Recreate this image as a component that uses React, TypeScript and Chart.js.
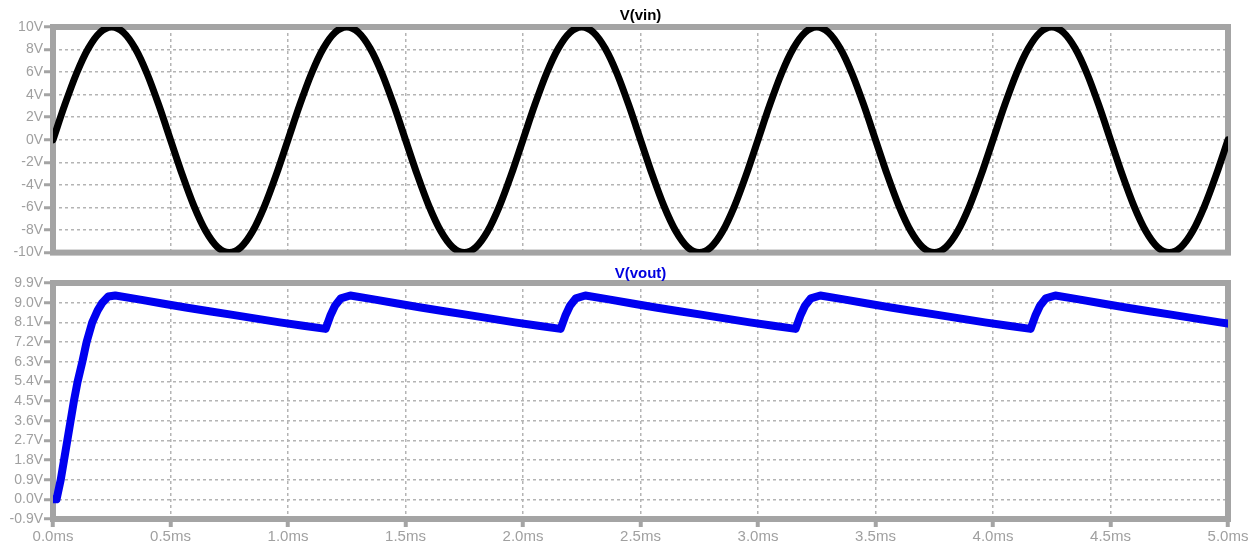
import React, { useEffect, useRef } from 'react';
import { Chart, registerables } from 'chart.js';

Chart.register(...registerables);

// ---- Data ----
const timeTicks = [0, 0.5, 1, 1.5, 2, 2.5, 3, 3.5, 4, 4.5, 5];
const vinTicks = [-10, -8, -6, -4, -2, 0, 2, 4, 6, 8, 10];
const voutTicks = [-0.9, 0, 0.9, 1.8, 2.7, 3.6, 4.5, 5.4, 6.3, 7.2, 8.1, 9.0, 9.9];

const vinTime = [
  0, 0.05, 0.1, 0.15, 0.2, 0.25, 0.3, 0.35, 0.4, 0.45,
  0.5, 0.55, 0.6, 0.65, 0.7, 0.75, 0.8, 0.85, 0.9, 0.95,
  1.0, 1.05, 1.1, 1.15, 1.2, 1.25, 1.3, 1.35, 1.4, 1.45,
  1.5, 1.55, 1.6, 1.65, 1.7, 1.75, 1.8, 1.85, 1.9, 1.95,
  2.0, 2.05, 2.1, 2.15, 2.2, 2.25, 2.3, 2.35, 2.4, 2.45,
  2.5, 2.55, 2.6, 2.65, 2.7, 2.75, 2.8, 2.85, 2.9, 2.95,
  3.0, 3.05, 3.1, 3.15, 3.2, 3.25, 3.3, 3.35, 3.4, 3.45,
  3.5, 3.55, 3.6, 3.65, 3.7, 3.75, 3.8, 3.85, 3.9, 3.95,
  4.0, 4.05, 4.1, 4.15, 4.2, 4.25, 4.3, 4.35, 4.4, 4.45,
  4.5, 4.55, 4.6, 4.65, 4.7, 4.75, 4.8, 4.85, 4.9, 4.95,
  5.0,
];
const vinValues = [
  0, 3.09, 5.88, 8.09, 9.51, 10, 9.51, 8.09, 5.88, 3.09,
  0, -3.09, -5.88, -8.09, -9.51, -10, -9.51, -8.09, -5.88, -3.09,
  0, 3.09, 5.88, 8.09, 9.51, 10, 9.51, 8.09, 5.88, 3.09,
  0, -3.09, -5.88, -8.09, -9.51, -10, -9.51, -8.09, -5.88, -3.09,
  0, 3.09, 5.88, 8.09, 9.51, 10, 9.51, 8.09, 5.88, 3.09,
  0, -3.09, -5.88, -8.09, -9.51, -10, -9.51, -8.09, -5.88, -3.09,
  0, 3.09, 5.88, 8.09, 9.51, 10, 9.51, 8.09, 5.88, 3.09,
  0, -3.09, -5.88, -8.09, -9.51, -10, -9.51, -8.09, -5.88, -3.09,
  0, 3.09, 5.88, 8.09, 9.51, 10, 9.51, 8.09, 5.88, 3.09,
  0, -3.09, -5.88, -8.09, -9.51, -10, -9.51, -8.09, -5.88, -3.09,
  0,
];

const voutTime = [
  0, 0.015, 0.033, 0.047, 0.061, 0.075, 0.089, 0.105, 0.125, 0.143, 0.167, 0.19, 0.21, 0.235, 0.265,
  0.365, 0.465, 0.565, 0.665, 0.765, 0.865, 0.965, 1.065, 1.16, 1.18, 1.2, 1.225, 1.265,
  1.365, 1.465, 1.565, 1.665, 1.765, 1.865, 1.965, 2.065, 2.16, 2.18, 2.2, 2.225, 2.265,
  2.365, 2.465, 2.565, 2.665, 2.765, 2.865, 2.965, 3.065, 3.16, 3.18, 3.2, 3.225, 3.265,
  3.365, 3.465, 3.565, 3.665, 3.765, 3.865, 3.965, 4.065, 4.16, 4.18, 4.2, 4.225, 4.265,
  4.365, 4.465, 4.565, 4.665, 4.765, 4.865, 4.965, 5.0,
];
const voutValues = [
  0, 0, 0.9, 1.8, 2.7, 3.6, 4.5, 5.4, 6.3, 7.2, 8.1, 8.65, 9.0, 9.28, 9.33,
  9.15, 8.96, 8.78, 8.61, 8.44, 8.27, 8.1, 7.94, 7.8, 8.4, 8.86, 9.2, 9.33,
  9.15, 8.96, 8.78, 8.61, 8.44, 8.27, 8.1, 7.94, 7.8, 8.4, 8.86, 9.2, 9.33,
  9.15, 8.96, 8.78, 8.61, 8.44, 8.27, 8.1, 7.94, 7.8, 8.4, 8.86, 9.2, 9.33,
  9.15, 8.96, 8.78, 8.61, 8.44, 8.27, 8.1, 7.94, 7.8, 8.4, 8.86, 9.2, 9.33,
  9.15, 8.96, 8.78, 8.61, 8.44, 8.27, 8.1, 8.04,
];

// ---- Styles ----
const FRAME = '#a4a4a4';
const GRID = '#b4b4b4';
const LABEL = '#a0a0a0';
const FONT = '"Liberation Sans", Arial, sans-serif';

const framePlugin = {
  id: 'panelFrame',
  beforeDatasetsDraw(chart: any) {
    const { ctx, chartArea } = chart;
    const { left, top, right, bottom } = chartArea;
    ctx.save();
    ctx.strokeStyle = FRAME;
    ctx.lineWidth = 6;
    ctx.strokeRect(left, top, right - left, bottom - top);
    ctx.restore();
  },
  afterDraw(chart: any, _args: any, opts: any) {
    const { ctx, chartArea } = chart;
    ctx.save();
    ctx.font = `bold 15px ${FONT}`;
    ctx.fillStyle = opts.titleColor;
    ctx.textAlign = 'center';
    ctx.textBaseline = 'middle';
    ctx.fillText(opts.title, (chartArea.left + chartArea.right) / 2, chartArea.top + opts.titleOffset);
    ctx.restore();
  },
};

function yScale(ticksArr: number[], fmt: (v: number) => string) {
  return {
    type: 'linear',
    min: ticksArr[0],
    max: ticksArr[ticksArr.length - 1],
    afterBuildTicks: (s: any) => {
      s.ticks = ticksArr.map((v) => ({ value: v }));
    },
    afterFit: (s: any) => {
      s.width = 53;
    },
    grid: {
      color: GRID,
      lineWidth: 1.5,
      drawTicks: true,
      tickLength: 9,
      tickWidth: 3,
      tickColor: FRAME,
      tickBorderDash: [],
    },
    border: { display: false, dash: [3, 3] },
    ticks: {
      autoSkip: false,
      color: LABEL,
      font: { family: FONT, size: 14 },
      padding: 1,
      callback: (v: any) => fmt(Number(v)),
    },
  };
}

function xScale(showLabels: boolean) {
  return {
    type: 'linear',
    min: 0,
    max: 5,
    afterBuildTicks: (s: any) => {
      s.ticks = timeTicks.map((v) => ({ value: v }));
    },
    afterFit: (s: any) => {
      s.height = showLabels ? 31 : 0;
    },
    grid: {
      color: GRID,
      lineWidth: 1.5,
      drawTicks: showLabels,
      tickLength: 8,
      tickWidth: 4,
      tickColor: FRAME,
      tickBorderDash: [],
    },
    border: { display: false, dash: [3, 3] },
    ticks: {
      display: showLabels,
      autoSkip: false,
      color: LABEL,
      font: { family: FONT, size: 15 },
      padding: 1,
      maxRotation: 0,
      callback: (v: any) => Number(v).toFixed(1) + 'ms',
    },
  };
}

export default function App() {
  const topRef = useRef<HTMLCanvasElement>(null);
  const botRef = useRef<HTMLCanvasElement>(null);

  useEffect(() => {
    const c1 = new Chart(topRef.current as HTMLCanvasElement, {
      type: 'line',
      data: {
        datasets: [
          {
            label: 'V(vin)',
            data: vinTime.map((t, i) => ({ x: t, y: vinValues[i] })),
            borderColor: '#000000',
            borderWidth: 7,
            pointRadius: 0,
            cubicInterpolationMode: 'monotone',
            borderJoinStyle: 'round',
            borderCapStyle: 'round',
          },
        ],
      },
      options: {
        responsive: false,
        animation: false,
        layout: { padding: { top: 27, right: 25, bottom: 4, left: 0 } },
        scales: {
          x: xScale(false) as any,
          y: yScale(vinTicks, (v) => `${Math.round(v)}V`) as any,
        },
        plugins: {
          legend: { display: false },
          tooltip: { enabled: false },
          panelFrame: { title: 'V(vin)', titleColor: '#000000', titleOffset: -11 },
        } as any,
      },
      plugins: [framePlugin],
    } as any);

    const c2 = new Chart(botRef.current as HTMLCanvasElement, {
      type: 'line',
      data: {
        datasets: [
          {
            label: 'V(vout)',
            data: voutTime.map((t, i) => ({ x: t, y: voutValues[i] })),
            borderColor: '#0000f0',
            borderWidth: 8,
            pointRadius: 0,
            tension: 0,
            borderJoinStyle: 'round',
            borderCapStyle: 'round',
          },
        ],
      },
      options: {
        responsive: false,
        animation: false,
        layout: { padding: { top: 21, right: 25, bottom: 0, left: 0 } },
        scales: {
          x: xScale(true) as any,
          y: yScale(voutTicks, (v) => `${v.toFixed(1)}V`) as any,
        },
        plugins: {
          legend: { display: false },
          tooltip: { enabled: false },
          panelFrame: { title: 'V(vout)', titleColor: '#0000e0', titleOffset: -9.5 },
        } as any,
      },
      plugins: [framePlugin],
    } as any);

    return () => {
      c1.destroy();
      c2.destroy();
    };
  }, []);

  return (
    <div style={{ position: 'absolute', left: 0, top: 0, width: 1253, height: 550, background: '#ffffff' }}>
      <canvas ref={topRef} width={1253} height={262} style={{ position: 'absolute', left: 0, top: 0 }} />
      <canvas ref={botRef} width={1253} height={288} style={{ position: 'absolute', left: 0, top: 262 }} />
    </div>
  );
}
